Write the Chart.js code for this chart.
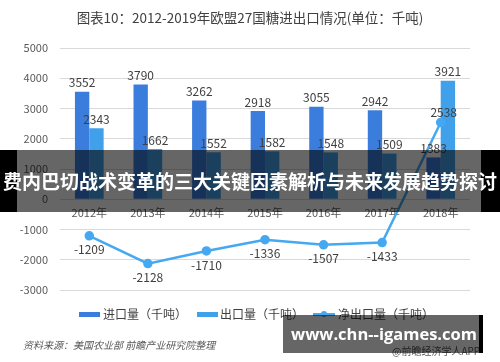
<!DOCTYPE html>
<html>
<head>
<meta charset="utf-8">
<script src="https://cdn.jsdelivr.net/npm/chart.js@4.4.1/dist/chart.umd.min.js"></script>
<style>
  html, body { margin: 0; padding: 0; background: #fff; }
  #wrap { position: relative; width: 500px; height: 362px; overflow: hidden; font-family: "Noto Sans CJK SC", "Noto Sans", sans-serif; }
  #chart { position: absolute; left: 0; top: 0; }
  .title { position: absolute; left: 0; width: 500px; top: 7px; text-align: center; font-size: 13.5px; color: #404040; }
  .legend { position: absolute; top: 306px; font-size: 12px; color: #404040; line-height: 16px; }
  .sw { position: absolute; top: 6px; width: 21px; height: 5px; }
  .source { position: absolute; left: 23px; top: 337px; font-size: 10px; font-style: italic; color: #595959; }
  .app { position: absolute; left: 392px; top: 343px; font-size: 10px; color: #595959; }
  .band-l { position: absolute; left: 0; top: 150px; width: 17px; height: 62px; background: #000; }
  .band-m { position: absolute; left: 17px; top: 150px; width: 464px; height: 62px; background: rgba(0,0,0,0.6); }
  .band-r { position: absolute; left: 481px; top: 150px; width: 19px; height: 62px; background: #000; }
  .band-t { position: absolute; left: -50px; top: 167px; width: 600px; text-align: center; color: #fff; font-weight: bold; font-size: 19px; line-height: 28px; white-space: nowrap; }
  .wm { position: absolute; left: 283px; top: 315px; width: 196px; height: 38px; background: rgba(0,0,0,0.6); }
  .wm-r { position: absolute; left: 479px; top: 315px; width: 4px; height: 38px; background: #000; }
  .wm-t { position: absolute; left: 236px; top: 322px; width: 296px; text-align: center; color: #fff; font-weight: bold; font-size: 16.5px; line-height: 24px; font-family: "Open Sans", "DejaVu Sans", sans-serif; white-space: nowrap; }
</style>
</head>
<body>
<div id="wrap">
  <canvas id="chart" width="500" height="362"></canvas>
  <div class="title">图表10：2012-2019年欧盟27国糖进出口情况(单位：千吨)</div>

  <div class="legend" style="left:79px;"><div class="sw" style="left:0;background:#3b7ddd;"></div><span style="position:absolute;left:24px;white-space:nowrap;">进口量（千吨）</span></div>
  <div class="legend" style="left:197px;"><div class="sw" style="left:0;background:#41a0ea;"></div><span style="position:absolute;left:23px;white-space:nowrap;">出口量（千吨）</span></div>
  <div class="legend" style="left:313px;">
    <div style="position:absolute;left:0;top:7px;width:22px;height:2.5px;background:#45a8f0;"></div>
    <div style="position:absolute;left:8px;top:5px;width:6px;height:6px;border-radius:3px;background:#45a8f0;"></div>
    <span style="position:absolute;left:25px;white-space:nowrap;">净出口量（千吨）</span>
  </div>

  <div class="source">资料来源：美国农业部 前瞻产业研究院整理</div>
  <div class="app">@前瞻经济学人APP</div>

  <div class="band-l"></div>
  <div class="band-m"></div>
  <div class="band-r"></div>
  <div class="band-t">费内巴切战术变革的三大关键因素解析与未来发展趋势探讨</div>

  <div class="wm"></div>
  <div class="wm-r"></div>
  <div class="wm-t">www.chn--igames.com</div>
</div>

<script>
// 数据
const years = ['2012年', '2013年', '2014年', '2015年', '2016年', '2017年', '2018年'];
const importVol = [3552, 3790, 3262, 2918, 3055, 2942, 1383];
const exportVol = [2343, 1662, 1552, 1582, 1548, 1509, 3921];
const netExport = [-1209, -2128, -1710, -1336, -1507, -1433, 2538];

const yMin = -3000;
const yMax = 5000;
const yStep = 1000;

// 数值标签
const valueLabels = {
  id: 'valueLabels',
  afterDatasetsDraw(chart) {
    const ctx = chart.ctx;
    ctx.save();
    ctx.font = '12px "Noto Sans CJK SC", sans-serif';
    ctx.fillStyle = '#404040';
    ctx.textAlign = 'center';
    chart.data.datasets.forEach((ds, i) => {
      const meta = chart.getDatasetMeta(i);
      meta.data.forEach((el, j) => {
        const v = ds.data[j];
        if (ds.type === 'line') {
          if (v >= 0) {
            ctx.textBaseline = 'bottom';
            ctx.fillText(v, el.x + 3, el.y - 4);
          } else {
            ctx.textBaseline = 'top';
            ctx.fillText(v, el.x, el.y + 8);
          }
        } else {
          ctx.textBaseline = 'bottom';
          ctx.fillText(v, el.x, el.y - 3);
        }
      });
    });
    ctx.restore();
  }
};

new Chart(document.getElementById('chart').getContext('2d'), {
  data: {
    labels: years,
    datasets: [
      {
        type: 'line',
        label: '净出口量（千吨）',
        data: netExport,
        borderColor: '#45a8f0',
        backgroundColor: '#45a8f0',
        borderWidth: 2.5,
        pointRadius: 3.5,
        pointHoverRadius: 3.5,
        tension: 0,
        order: 0
      },
      {
        type: 'bar',
        label: '进口量（千吨）',
        data: importVol,
        backgroundColor: '#3b7ddd',
        categoryPercentage: 0.49,
        barPercentage: 1,
        order: 1
      },
      {
        type: 'bar',
        label: '出口量（千吨）',
        data: exportVol,
        backgroundColor: '#41a0ea',
        categoryPercentage: 0.49,
        barPercentage: 1,
        order: 1
      }
    ]
  },
  options: {
    responsive: false,
    animation: false,
    layout: { padding: { left: 0, right: 30, top: 48, bottom: 72 } },
    plugins: {
      legend: { display: false },
      tooltip: { enabled: false }
    },
    scales: {
      x: {
        position: { y: 0 },
        grid: { display: false, drawTicks: false },
        border: { display: false },
        ticks: {
          color: '#595959',
          font: { size: 11, family: '"Noto Sans CJK SC", sans-serif' },
          padding: 7,
          maxRotation: 0
        }
      },
      y: {
        min: yMin,
        max: yMax,
        afterFit(scale) { scale.width = 60; },
        grid: { color: '#d9d9d9', lineWidth: 1, drawTicks: false },
        border: { display: false },
        ticks: {
          stepSize: yStep,
          callback: v => String(v),
          color: '#595959',
          font: { size: 11, family: '"Noto Sans CJK SC", sans-serif' },
          padding: 12
        }
      }
    }
  },
  plugins: [valueLabels]
});
</script>
</body>
</html>
